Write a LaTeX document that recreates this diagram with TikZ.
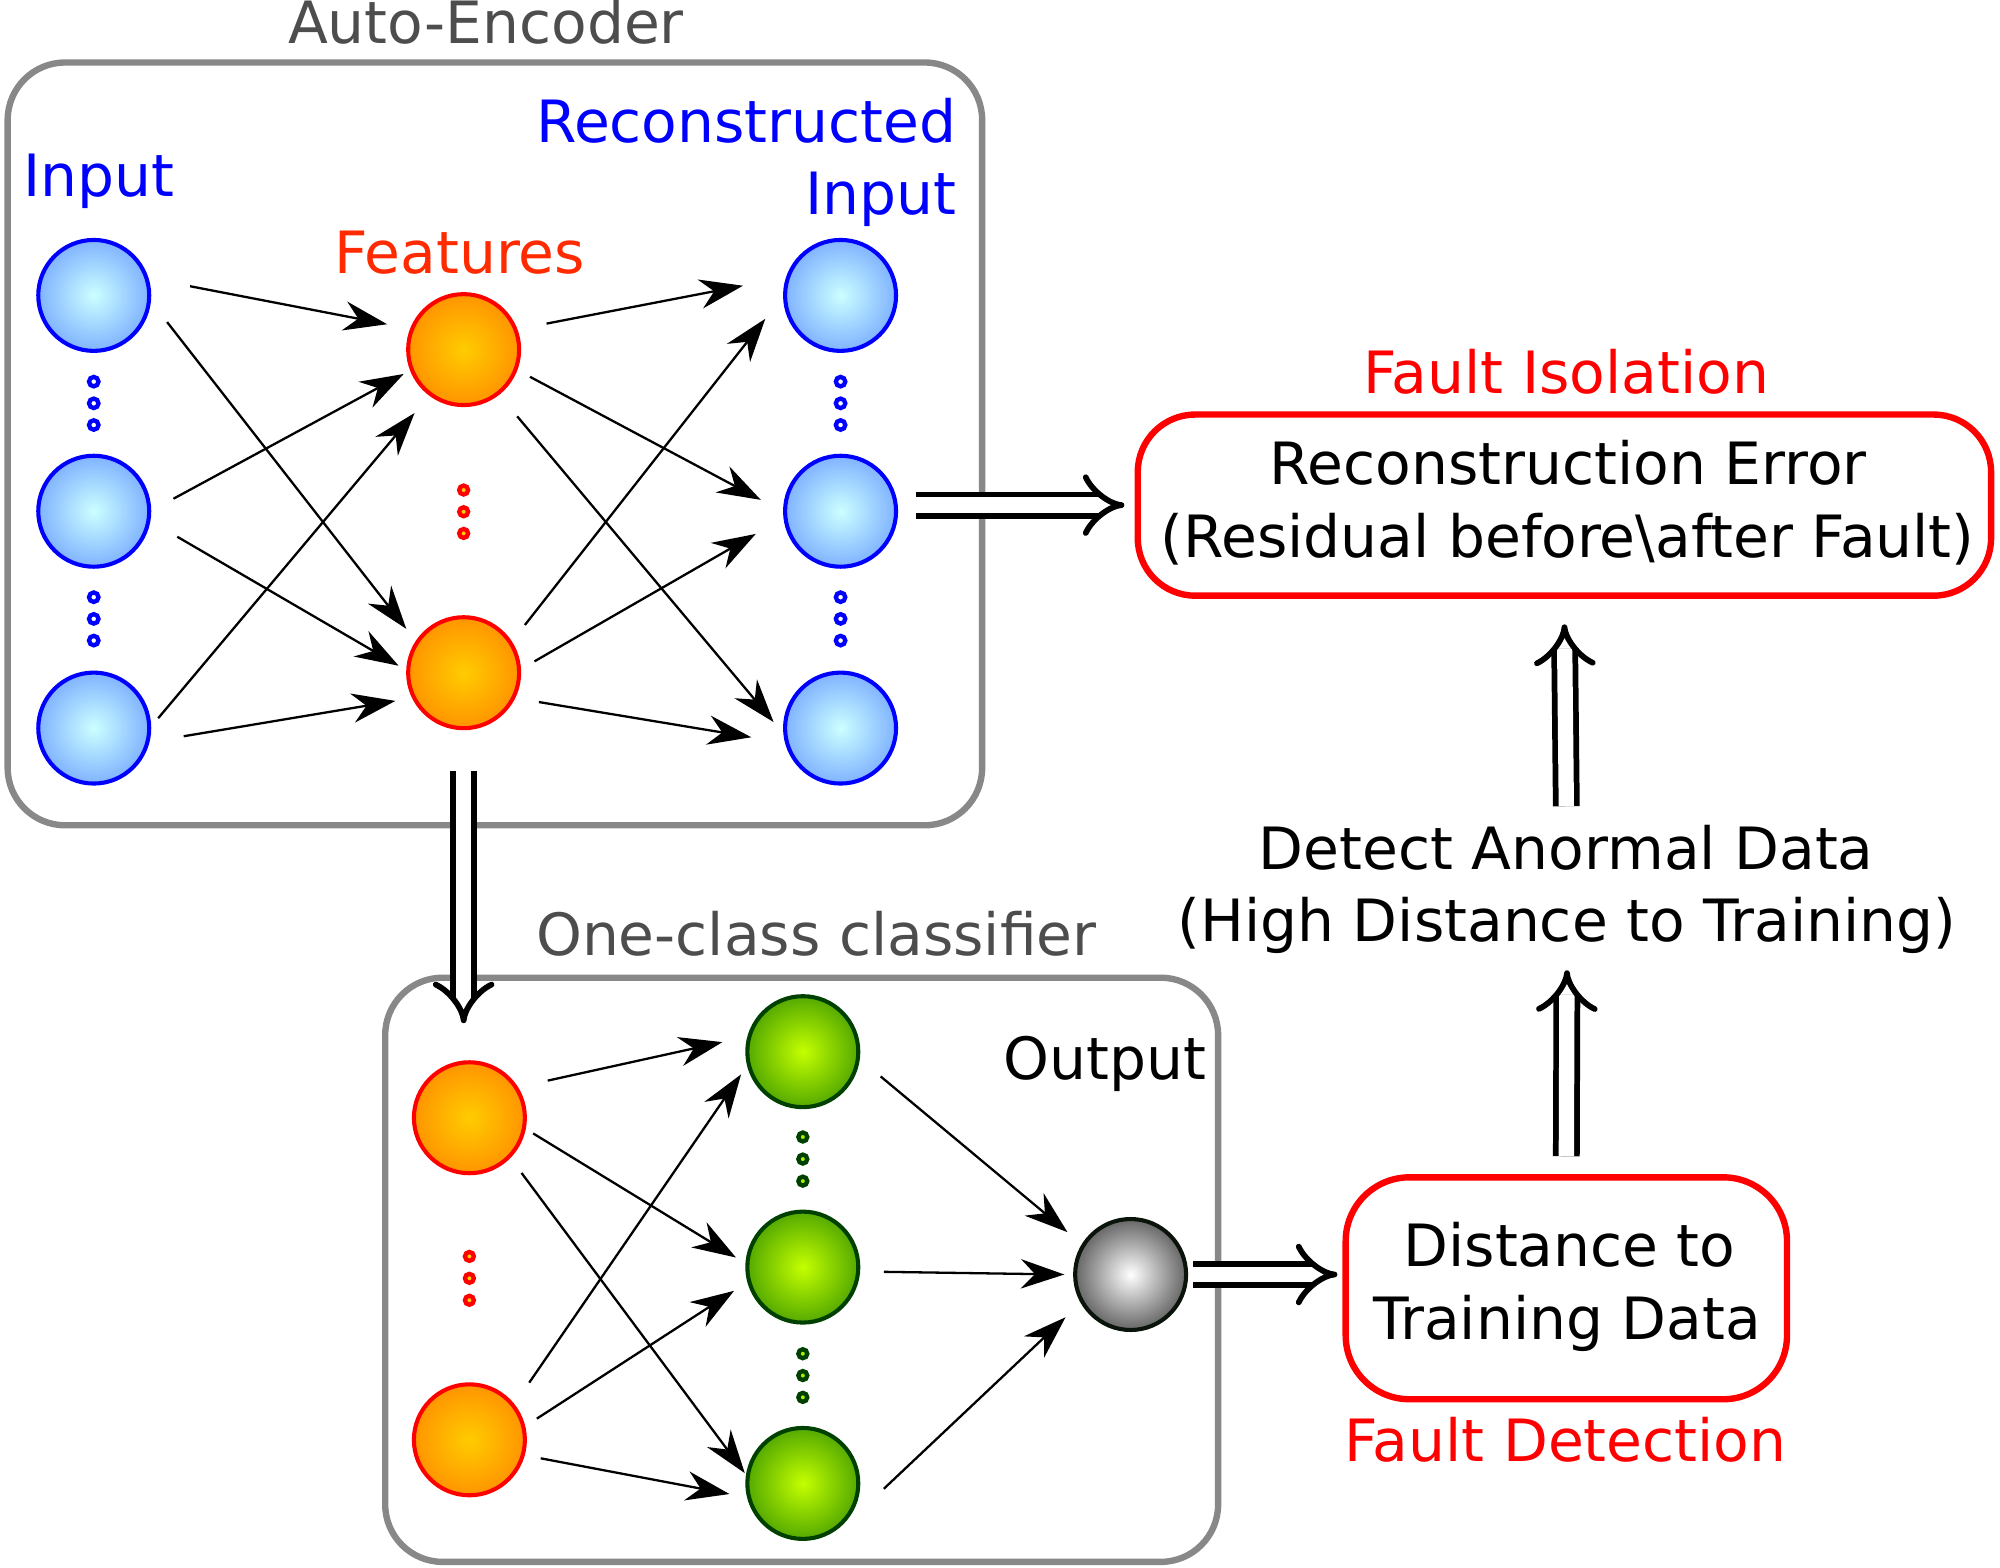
\documentclass[tikz,border=0pt]{standalone}
\usepackage{fontspec}
\setmainfont{DejaVu Sans}
\usetikzlibrary{arrows.meta,calc}
\definecolor{nblue}{HTML}{0000FF}
\definecolor{binner}{HTML}{CCFFFF}
\definecolor{bouter}{HTML}{80B3FF}
\definecolor{oinner}{HTML}{FFCC00}
\definecolor{oouter}{HTML}{FF9500}
\definecolor{ginner}{HTML}{C4FF00}
\definecolor{gouter}{HTML}{55AA00}
\definecolor{gstroke}{HTML}{004000}
\definecolor{featred}{HTML}{FF2A00}
\definecolor{faultred}{HTML}{FF0000}
\definecolor{titlegray}{HTML}{4D4D4D}
\definecolor{boxgray}{HTML}{888888}
\definecolor{outstroke}{HTML}{0A140A}
\newcommand\myconn[4]{\draw[arr] ($(#1)+(#2)$) -- ($(#3)+(#4)$);}
\begin{document}
\begin{tikzpicture}[x=1pt,y=-1pt,
  neuron/.style={circle, minimum size=87pt, inner sep=0pt, line width=3.2pt},
  bneuron/.style={neuron, draw=nblue, inner color=binner, outer color=bouter},
  oneuron/.style={neuron, draw=faultred, inner color=oinner, outer color=oouter},
  gneuron/.style={neuron, draw=gstroke, inner color=ginner, outer color=gouter},
  outneuron/.style={neuron, draw=outstroke, inner color=white, outer color=black!60},
  dotb/.style={draw=nblue, line width=3.4pt, fill=white},
  dotr/.style={draw=faultred, line width=3.4pt, fill=oinner},
  dotg/.style={draw=gstroke, line width=3.4pt, fill=ginner!80!gouter},
  arr/.style={line width=1.8pt, -{Stealth[length=34pt,width=23pt,inset=11pt]}},
  dbl/.style={double, double distance=12pt, line width=4.5pt, -{Implies[length=22pt,width=46pt]}},
  lbl/.style={inner sep=0pt, anchor=base, font=\fontsize{45.7}{57}\selectfont},
  frame/.style={draw=boxgray, line width=5pt, rounded corners=45pt, inner sep=0pt},
  redframe/.style={draw=faultred, line width=5pt, rounded corners=45pt, inner sep=0pt}]
\useasboundingbox (0,0) rectangle (1568,1229);

% frames
\node[frame, minimum width=764pt, minimum height=598pt] (ae) at (388,348) {};
\node[frame, minimum width=653pt, minimum height=458pt] (occ) at (628.5,995.5) {};
\node[redframe, minimum width=669pt, minimum height=142pt] (fi) at (1226.5,396) {};
\node[redframe, minimum width=346pt, minimum height=174pt, rounded corners=50pt] (fd) at (1228,1010) {};

% labels
\node[lbl, text=titlegray] (aet) at (381,34) {Auto-Encoder};
\node[lbl, text=nblue, anchor=base west] (inl) at (18,154) {Input};
\node[lbl, text=nblue, anchor=base east] (recl1) at (750,111.4) {Reconstructed};
\node[lbl, text=nblue, anchor=base east] (recl2) at (750,168) {Input};
\node[lbl, text=featred] (featl) at (360.5,214.6) {Features};
\node[lbl, text=titlegray] (occt) at (640,749) {One-class classifier};
\node[lbl, anchor=base east] (outl) at (946,846.4) {Output};
\node[lbl, text=faultred] (fil) at (1228,308.4) {Fault Isolation};
\node[lbl] (fi1) at (1229.5,379.5) {Reconstruction Error};
\node[lbl] (fi2) at (1229,437.2) {(Residual before\textbackslash after Fault)};
\node[lbl] (det1) at (1228,682) {Detect Anormal Data};
\node[lbl] (det2) at (1228.5,738) {(High Distance to Training)};
\node[lbl] (fd1) at (1230.5,993) {Distance to};
\node[lbl] (fd2) at (1228.5,1050.3) {Training Data};
\node[lbl, text=faultred] (fdl) at (1227.4,1145.6) {Fault Detection};

% auto-encoder neurons
\node[bneuron] (i1) at (73.5,231.6) {};
\node[bneuron] (i2) at (73.5,400.8) {};
\node[bneuron] (i3) at (73.5,570.8) {};
\node[oneuron] (f1) at (363.5,274.1) {};
\node[oneuron] (f2) at (363.5,527.4) {};
\node[bneuron] (r1) at (659,231.6) {};
\node[bneuron] (r2) at (659,400.8) {};
\node[bneuron] (r3) at (659,570.8) {};

\foreach \y in {299.2,316.2,333.2,468.2,485.2,502.2} {
  \draw[dotb] (73.5,\y) circle[radius=3.7pt];
  \draw[dotb] (659,\y) circle[radius=3.7pt];
}
\foreach \y in {384.2,401.2,418.2}
  \draw[dotr] (363.5,\y) circle[radius=3.5pt];

% one-class classifier neurons
\node[oneuron] (o1) at (368,876.3) {};
\node[oneuron] (o2) at (368,1128.8) {};
\node[gneuron] (g1) at (629.4,824.5) {};
\node[gneuron] (g2) at (629.4,993.4) {};
\node[gneuron] (g3) at (629.4,1163) {};
\node[outneuron] (out) at (886.4,999.2) {};

\foreach \y in {985,1002.2,1019.4}
  \draw[dotr] (368,\y) circle[radius=3.5pt];
\foreach \y in {891.4,908.7,926,1061.3,1078.4,1095.5}
  \draw[dotg] (629.4,\y) circle[radius=3.5pt];

% auto-encoder connections
\myconn{i1}{75.5,-7.2}{f1}{-60,-19.9}
\myconn{i1}{57.5,20.9}{f2}{-45,-34.4}
\myconn{i2}{62.5,-9.8}{f1}{-47,19.1}
\myconn{i2}{65.5,20}{f2}{-51,-5.5}
\myconn{i3}{50.5,-7.7}{f1}{-38.5,49.7}
\myconn{i3}{70.5,6.4}{f2}{-53.5,22.1}
\myconn{f1}{65,-20.4}{r1}{-76.5,-7.6}
\myconn{f1}{52,21.3}{r2}{-62.5,-8.9}
\myconn{f1}{42,52.3}{r3}{-52.5,-4.7}
\myconn{f2}{48,-37.4}{r1}{-59,18.3}
\myconn{f2}{55.5,-8.9}{r2}{-66.5,17.8}
\myconn{f2}{59,23}{r3}{-70,7.2}
% classifier connections
\myconn{o1}{61.4,-29.1}{g1}{-63,-7.5}
\myconn{o1}{50,12.3}{g2}{-52.4,-7.5}
\myconn{o1}{40.9,43.3}{g3}{-45.5,-8.1}
\myconn{o2}{46.9,-44.8}{g1}{-48.4,17.8}
\myconn{o2}{52.9,-16.6}{g2}{-53.9,18.6}
\myconn{o2}{55.9,14.5}{g3}{-57.5,8.3}
\myconn{g1}{61,19.4}{out}{-49.5,-33.2}
\myconn{g2}{63.5,3.7}{out}{-52,0}
\myconn{g3}{63.5,4.2}{out}{-51,33.5}

% double arrows
\draw[dbl] ([yshift=-32pt]f2.south) -- ([yshift=29pt]f2.south |- o1.north);
\draw[dbl] ([xshift=14pt]fi.west -| r2.east) -- ([xshift=-8pt]fi.west);
\draw[dbl] ([xshift=4pt]out.east) -- ([xshift=-4pt]out.east -| fd.west);
\draw[dbl] ([yshift=14pt]fd.north) -- ([yshift=-13pt]det2.south);
\draw[dbl] ([yshift=15pt]det1.north) -- ([yshift=-20pt]fi.south);
\end{tikzpicture}
\end{document}
